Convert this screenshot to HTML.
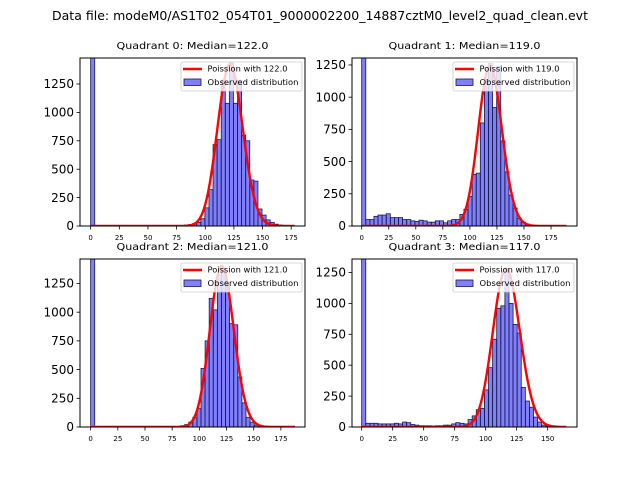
<!DOCTYPE html>
<html><head><meta charset="utf-8"><style>
body{margin:0;background:#fff}
svg{display:block;font-family:"DejaVu Sans","Liberation Sans",sans-serif}
</style></head><body>
<svg id="fig" width="640" height="480" viewBox="0 0 640 480">
<text x="320" y="20" text-anchor="middle" font-size="12" textLength="536" lengthAdjust="spacingAndGlyphs">Data file: modeM0/AS1T02_054T01_9000002200_14887cztM0_level2_quad_clean.evt</text>
</svg>
<script>
// ---- data ----
const quadrantNames = ["Quadrant 0","Quadrant 1","Quadrant 2","Quadrant 3"];
const medians = [122.0, 119.0, 121.0, 117.0];
const binMax = [178, 189, 188, 165];
const q0Counts = [3000,0,0,0,0,0,0,0,0,0,0,0,0,0,0,0,0,0,0,0,0,3,5,9,13,21,32,64,160,320,717,760,1284,1080,1435,1080,1284,800,750,405,395,150,96,54,32,16,9,3,0,0];
const q1Counts = [3000,50,50,75,85,85,95,65,65,65,50,50,40,35,45,40,30,30,40,40,25,40,50,50,90,130,230,400,410,800,1140,1260,920,1240,660,420,240,140,60,30,15,5,3,2,2,2,2,2,2,2];
const q2Counts = [3000,0,0,0,0,0,0,0,0,0,0,0,0,0,0,0,0,0,0,0,0,5,11,21,42,85,160,510,750,1120,1020,1325,1380,1220,900,890,435,210,85,42,16,5,0,0,0,0,0,0,0,0];
const q3Counts = [3000,30,30,30,25,25,25,25,30,25,40,35,20,15,10,10,10,8,10,10,15,15,25,35,30,25,60,90,140,150,300,480,710,960,980,1260,1000,830,760,320,210,160,80,40,15,8,4,2,1,1];
const poissonPeak = [1420, 1240, 1400, 1280];
const yTicks = [0,250,500,750,1000,1250];
const xTicksTop = [0,25,50,75,100,125,150,175];
const xTicksQ3 = [0,25,50,75,100,125,150];
const yMax = [1479, 1304, 1463, 1359];
const xMin = [-9.3, -8.96, -9.8, -7.8];
const pxPerUnit = [1.146, 1.082, 1.087, 1.24];
</script>
<script>
const NS="http://www.w3.org/2000/svg";
const svg=document.getElementById('fig');
const allCounts=[q0Counts,q1Counts,q2Counts,q3Counts];
const boxes=[[80,58],[352,58],[80,259],[352,259]];
const BW=225,BH=168;
function mk(tag,attrs,parent){const e=document.createElementNS(NS,tag);for(const k in attrs)e.setAttribute(k,attrs[k]);(parent||svg).appendChild(e);return e;}
function lgamma(z){ // Stirling series
  if(z<7){let p=1;while(z<7){p*=z;z+=1;}return lgamma(z)-Math.log(p);}
  return (z-0.5)*Math.log(z)-z+0.5*Math.log(2*Math.PI)+1/(12*z)-1/(360*z*z*z);
}
function logPois(k,l){return k*Math.log(l)-l-lgamma(k+1);}
for(let q=0;q<4;q++){
  const [bx,by]=boxes[q];
  const g=mk('g',{});
  
  
  const sx=v=>bx+(v-xMin[q])*pxPerUnit[q];
  const sy=v=>by+BH-v/yMax[q]*BH;
  const cid='clip'+q;
  const cp=mk('clipPath',{id:cid},g);mk('rect',{x:bx,y:by,width:BW,height:BH},cp);
  const plot=mk('g',{'clip-path':'url(#'+cid+')'},g);
  const counts=allCounts[q];const w=binMax[q]/counts.length;
  counts.forEach((c,i)=>{
    if(c<=0)return;
    const r=mk('rect',{x:sx(i*w),y:sy(c),width:sx((i+1)*w)-sx(i*w),height:sy(0)-sy(c),fill:'rgba(0,0,255,0.5)',stroke:'#1a1a40','stroke-width':0.8},plot);
    
    
  });
  const lam=medians[q];const lp=logPois(Math.floor(lam),lam);
  let d='';
  for(let k=0;k<=Math.round(binMax[q]);k++){
    const v=poissonPeak[q]*Math.exp(logPois(k,lam)-lp);
    d+=(k?'L':'M')+sx(k).toFixed(2)+','+sy(v).toFixed(2);
  }
  const pl=mk('path',{d:d,fill:'none',stroke:'#ff0000','stroke-width':2.4,'stroke-linejoin':'round'},plot);
  
  
  const fr=mk('rect',{x:bx,y:by,width:BW,height:BH,fill:'none',stroke:'#000','stroke-width':1},g);
  
  
  yTicks.forEach(t=>{
    const y=sy(t);
    mk('line',{x1:bx-3.5,x2:bx,y1:y,y2:y,stroke:'#000','stroke-width':0.8},g);
    const tx=mk('text',{x:bx-6,y:y+4.2,'text-anchor':'end','font-size':12},g);
    tx.textContent=t;
    
    
  });
  (q===3?xTicksQ3:xTicksTop).forEach(t=>{
    const x=sx(t);
    mk('line',{x1:x,x2:x,y1:by+BH,y2:by+BH+3.5,stroke:'#000','stroke-width':0.8},g);
    const tx=mk('text',{x:x,y:by+BH+14,'text-anchor':'middle','font-size':7},g);
    tx.textContent=t;
    
    
  });
  const tt=mk('text',{x:bx+BW/2,y:by-9,'text-anchor':'middle','font-size':9.5,textLength:152,lengthAdjust:'spacingAndGlyphs'},g);
  tt.textContent=quadrantNames[q]+': Median='+medians[q].toFixed(1);
  
  
  // legend
  const lx=bx+BW-124,ly=by+4;
  const lg=mk('g',{},g);
  
  
  mk('rect',{x:lx,y:ly,width:121,height:29,rx:2,fill:'rgba(255,255,255,0.8)',stroke:'#ccc','stroke-width':0.8},lg);
  mk('line',{x1:lx+2,x2:lx+21,y1:ly+7,y2:ly+7,stroke:'#ff0000','stroke-width':2.4},lg);
  const t1=mk('text',{x:lx+26.5,y:ly+9.5,'font-size':7.5,textLength:80,lengthAdjust:'spacingAndGlyphs'},lg);
  t1.textContent='Poission with '+medians[q].toFixed(1);
  
  
  mk('rect',{x:lx+3,y:ly+17,width:17,height:6.5,fill:'rgba(0,0,255,0.5)',stroke:'#1a1a40','stroke-width':0.8},lg);
  const t2=mk('text',{x:lx+26.5,y:ly+23,'font-size':7.5,textLength:91,lengthAdjust:'spacingAndGlyphs'},lg);
  t2.textContent='Observed distribution';
  
  
}
</script>
</body></html>
